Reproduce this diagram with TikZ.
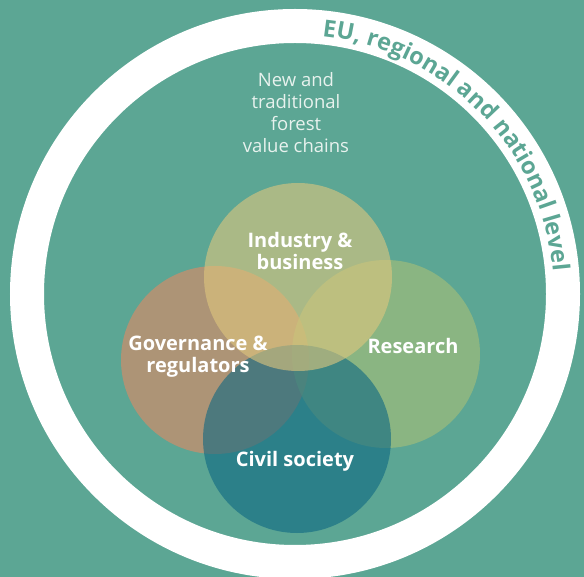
\documentclass[tikz,border=0pt]{standalone}
\usepackage{fontspec}
\setmainfont{Open Sans}
\usetikzlibrary{decorations.text}
\definecolor{bgteal}{RGB}{92,166,148}
\definecolor{indcol}{RGB}{223,199,125}
\definecolor{govcol}{RGB}{228,136,98}
\definecolor{rescol}{RGB}{169,191,118}
\definecolor{civcol}{RGB}{13,103,131}
\definecolor{softwhite}{RGB}{232,242,238}

\begin{document}
\begin{tikzpicture}[x=1pt, y=1pt,
  venn/.style={circle, minimum size=188pt, inner sep=0pt, fill opacity=0.6},
  sector/.style={text=white, align=center, font=\fontsize{20}{22}\selectfont\bfseries}]
  \useasboundingbox (0,0) rectangle (584,-577);
  \clip (0,0) rectangle (584,-577);
  \fill[bgteal] (0,0) rectangle (584,-577);
  \coordinate (ctr) at (295,-294);
  \draw[white, line width=34pt] (ctr) circle[radius=268];
  \path[decorate, decoration={text along path, text align=center,
      text={|\fontsize{23.5}{23.5}\selectfont\bfseries\color{bgteal}|EU, regional and national level}}]
    ([shift={(85:259)}]ctr) arc[start angle=85, end angle=4, radius=259];
  \node (chains) [text=softwhite, align=center, font=\fontsize{18.5}{22}\selectfont] at (296,-113) {New and\\traditional\\forest\\value chains};
  \node (governance) [venn, fill=govcol] at (215,-360) {};
  \node (research) [venn, fill=rescol] at (386,-354) {};
  \node (civil) [venn, fill=civcol] at (297,-439) {};
  \node (industry) [venn, fill=indcol] at (298,-277) {};
  \node (industrytext) [sector] at (300,-251) {Industry \&\\business};
  \node (governancetext) [sector] at (198,-357) {Governance \&\\regulators};
  \node (researchtext) [sector] at (413,-346) {Research};
  \node (civiltext) [sector] at (295,-461) {Civil society};
\end{tikzpicture}
\end{document}
